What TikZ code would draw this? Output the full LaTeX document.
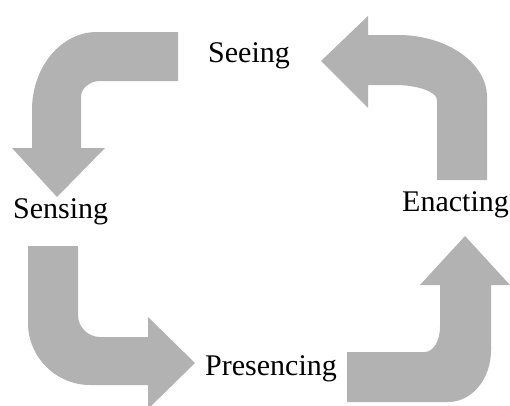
\documentclass[tikz,border=0pt]{standalone}
\usepackage{fontspec}
\setmainfont{Liberation Serif}
\definecolor{arrowgray}{RGB}{178,178,178}
\begin{document}
\begin{tikzpicture}[x=1pt,y=-1pt,
  blockarrow/.style={fill=arrowgray,draw=none},
  lbl/.style={anchor=base west,inner sep=0pt,font=\fontsize{30}{36}\selectfont}]
\useasboundingbox (0,0) rectangle (510,405);
% Seeing -> Sensing (top left)
\fill[blockarrow] (178,32) -- (97,32) .. controls (61,32) and (32,67) .. (32,110)
  -- (32,148) -- (12,148) -- (57,197) -- (105,148) -- (81,148) -- (81,97)
  .. controls (81,88) and (90,81) .. (100,81) -- (178,81) -- cycle;
% Enacting -> Seeing (top right)
\fill[blockarrow] (321,61) -- (368,16) -- (368,35) -- (398,35)
  .. controls (447,35) and (487,63) .. (487,97) -- (487,180) -- (437,180) -- (437,100)
  .. controls (437,92) and (418,85) .. (395,85) -- (368,85) -- (368,108) -- cycle;
% Sensing -> Presencing (bottom left)
\fill[blockarrow] (28,246) -- (78,246) -- (78,315) .. controls (78,327) and (88,337) .. (100,337)
  -- (148,337) -- (148,317) -- (195,363) -- (148,409) -- (148,385) -- (90,385)
  .. controls (56,385) and (28,357) .. (28,323) -- cycle;
% Presencing -> Enacting (bottom right)
\fill[blockarrow] (347,352) -- (425,352) .. controls (433,352) and (440,341) .. (440,327)
  -- (440,285) -- (420,285) -- (465,236) -- (510,285) -- (491,285) -- (491,350)
  .. controls (491,379) and (472,402) .. (448,402) -- (347,402) -- cycle;
\node[lbl] (seeing) at (208,62) {Seeing};
\node[lbl] (sensing) at (13,218) {Sensing};
\node[lbl] (enacting) at (402,211) {Enacting};
\node[lbl] (presencing) at (205,375) {Presencing};
\end{tikzpicture}
\end{document}
